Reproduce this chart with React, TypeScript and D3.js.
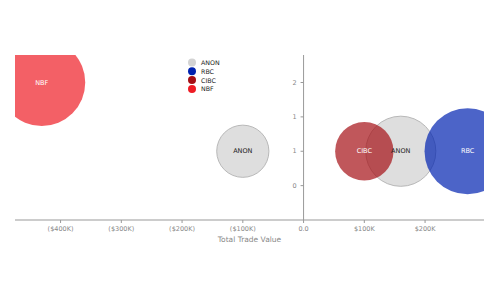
import React from "react";
import * as d3 from "d3";

const banks = ["NBF", "ANON", "CIBC", "ANON", "RBC"];
const tradeValues = [-431000, -100000, 100000, 160000, 270000];
const yValues = [1.5, 0.5, 0.5, 0.5, 0.5];
const sizes = [100, 36, 45, 65, 98];
const legendNames = ["ANON", "RBC", "CIBC", "NBF"];
const xTicks = [-400000, -300000, -200000, -100000, 0, 100000, 200000];
const yTicks = [0, 0.5, 1, 1.5];

const bubbleFill: Record<string, string> = {
  ANON: "#d3d3d3",
  RBC: "#0022b0",
  CIBC: "#a50f15",
  NBF: "#ee1c25",
};
const bubbleOpacity: Record<string, number> = { ANON: 0.75, RBC: 0.7, CIBC: 0.7, NBF: 0.7 };
const labelColor: Record<string, string> = { ANON: "#222", RBC: "#fff", CIBC: "#fff", NBF: "#fff" };
const drawOrder = ["ANON", "RBC", "CIBC", "NBF"];

const W = 500, H = 300;
const left = 15, right = 484, top = 55, bottom = 220;
const FONT = "DejaVu Sans, sans-serif";

export default function App() {
  const x = d3.scaleLinear().domain([-475000, 297000]).range([left, right]);
  const y = d3.scaleLinear().domain([-0.5, 1.9]).range([bottom, top]);
  const r = d3.scaleSqrt().domain([0, 100]).range([0, 43.5]);
  const fmtY = d3.format(".0f");
  const fmtX = (v: number) =>
    v === 0 ? "0.0" : v < 0 ? `($${Math.abs(v) / 1000}K)` : `$${v / 1000}K`;
  const x0 = x(0);
  const y0 = y(-0.5);

  const items = banks.map((b, i) => ({ b, i }));
  const ordered = [...items].sort((a, c) => drawOrder.indexOf(a.b) - drawOrder.indexOf(c.b));

  return (
    <svg width={W} height={H} style={{ position: "absolute", left: 0, top: 0, background: "#fff" }} fontFamily={FONT}>
      <defs>
        <clipPath id="plotClip">
          <rect x={left} y={top} width={right - left} height={bottom - top} />
        </clipPath>
      </defs>
      <g clipPath="url(#plotClip)">
        {ordered.map(({ b, i }) => (
          <circle
            key={i}
            cx={x(tradeValues[i])}
            cy={y(yValues[i])}
            r={r(sizes[i])}
            fill={bubbleFill[b]}
            fillOpacity={bubbleOpacity[b]}
            stroke={b === "ANON" ? "#b8b8b8" : "none"}
            strokeWidth={1}
          />
        ))}
        {items.map(({ b, i }) => (
          <text
            key={"t" + i}
            x={x(tradeValues[i])}
            y={y(yValues[i])}
            textAnchor="middle"
            dominantBaseline="central"
            fontSize={6.5}
            fill={labelColor[b]}
          >
            {b}
          </text>
        ))}
      </g>
      {/* x axis */}
      <line x1={left} x2={right} y1={y0} y2={y0} stroke="#999" strokeWidth={1} />
      {xTicks.map((t) => (
        <g key={t}>
          <line x1={x(t)} x2={x(t)} y1={y0} y2={y0 + 3} stroke="#999" />
          <text x={x(t)} y={y0 + 11} textAnchor="middle" fontSize={6.5} fill="#888">
            {fmtX(t)}
          </text>
        </g>
      ))}
      <text x={(left + right) / 2} y={242} textAnchor="middle" fontSize={7.5} fill="#888">
        Total Trade Value
      </text>
      {/* y axis */}
      <line x1={x0} x2={x0} y1={top} y2={bottom} stroke="#999" strokeWidth={1} />
      {yTicks.map((t) => (
        <g key={t}>
          <line x1={x0 - 3} x2={x0} y1={y(t)} y2={y(t)} stroke="#999" />
          <text x={x0 - 7} y={y(t)} textAnchor="end" dominantBaseline="central" fontSize={6.5} fill="#888">
            {fmtY(t)}
          </text>
        </g>
      ))}
      {/* legend */}
      {legendNames.map((n, i) => (
        <g key={n} transform={`translate(192, ${62.5 + i * 8.8})`}>
          <circle r={4} fill={bubbleFill[n]} />
          <text x={9} y={0} dominantBaseline="central" fontSize={6.3} fill="#222">
            {n}
          </text>
        </g>
      ))}
    </svg>
  );
}
